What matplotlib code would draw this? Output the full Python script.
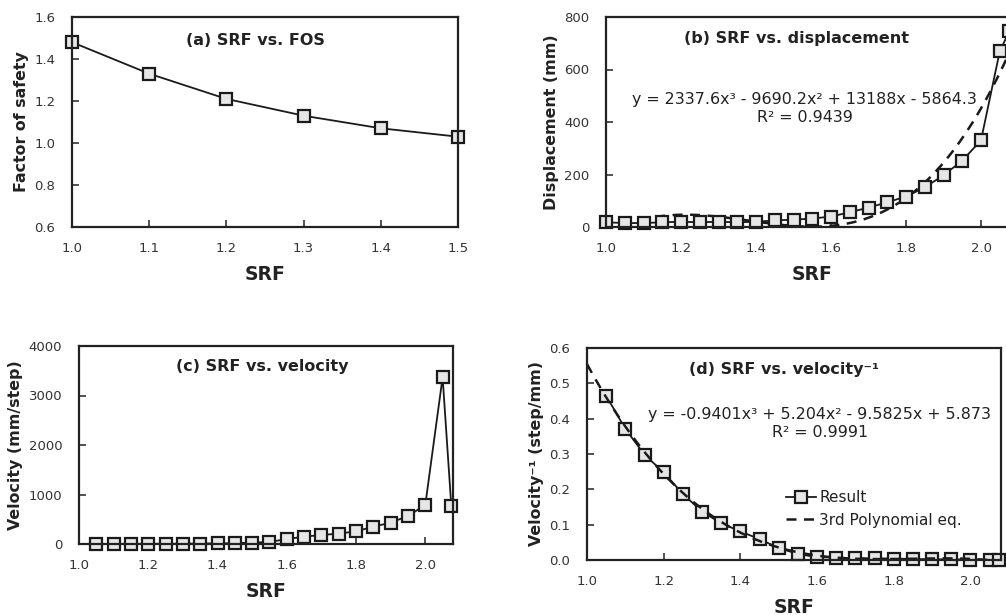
import numpy as np
import matplotlib

matplotlib.use("Agg")
from matplotlib import pyplot as plt

# (a) SRF vs. FOS
srf_a = [1.0, 1.1, 1.2, 1.3, 1.4, 1.5]
fos = [1.48, 1.33, 1.21, 1.13, 1.07, 1.03]

# (b) SRF vs. displacement
srf_b = [1.0, 1.05, 1.1, 1.15, 1.2, 1.25, 1.3, 1.35, 1.4, 1.45, 1.5, 1.55,
         1.6, 1.65, 1.7, 1.75, 1.8, 1.85, 1.9, 1.95, 2.0, 2.05, 2.075]
displacement = [18, 15, 15, 18, 20, 18, 20, 18, 20, 25, 28, 32,
                40, 56, 74, 94, 116, 151, 197, 253, 330, 669, 745]
disp_fit = [2337.6, -9690.2, 13188, -5864.3]
disp_r2 = 0.9439

# (c) SRF vs. velocity
srf_c = [1.05, 1.1, 1.15, 1.2, 1.25, 1.3, 1.35, 1.4, 1.45, 1.5, 1.55,
         1.6, 1.65, 1.7, 1.75, 1.8, 1.85, 1.9, 1.95, 2.0, 2.05, 2.075]
velocity = [2, 3, 3, 4, 5, 7, 10, 12, 16, 28, 40,
            100, 148, 182, 209, 256, 350, 431, 566, 788, 3370, 775]

# (d) SRF vs. velocity^-1
inv_velocity = [0.465, 0.371, 0.298, 0.248, 0.187, 0.137, 0.104, 0.081, 0.059, 0.034, 0.017,
                0.008, 0.007, 0.005, 0.005, 0.004, 0.003, 0.002, 0.002, 0.001, 0.0003, 0.001]
inv_fit = [-0.9401, 5.204, -9.5825, 5.873]
inv_r2 = 0.9991

plt.rcParams["font.family"] = "DejaVu Sans"

W, H = 1006, 615
fig = plt.figure(figsize=(W / 100, H / 100), dpi=100)


def px_axes(left, right, top, bottom):
    return fig.add_axes([left / W, 1 - bottom / H, (right - left) / W, (bottom - top) / H])


marker = dict(marker="s", markersize=8, markerfacecolor="#e6e6e6",
              markeredgecolor="#1a1a1a", markeredgewidth=1.6,
              color="#1a1a1a", linewidth=1.3)


def style(ax, xlabel, ylabel, xticks, yticks, xlim, ylim, fmt_y="%g"):
    ax.set_xlim(*xlim)
    ax.set_ylim(*ylim)
    ax.set_xticks(xticks)
    ax.set_xticklabels(["%.1f" % t for t in xticks])
    ax.set_yticks(yticks)
    ax.set_yticklabels([fmt_y % t for t in yticks])
    ax.tick_params(direction="in", length=5, width=1.2, labelsize=9.5,
                   labelcolor="#333333", color="#333333")
    ax.tick_params(axis="x", pad=11)
    ax.tick_params(axis="y", pad=12)
    for s in ax.spines.values():
        s.set_linewidth(1.6)
        s.set_color("#222222")
    ax.set_xlabel(xlabel, fontsize=13.5, fontweight="bold", color="#222222", labelpad=7)
    ax.set_ylabel(ylabel, fontsize=11.4, fontweight="bold", color="#222222", labelpad=4)


# (a)
ax = px_axes(72, 458, 17, 227)
ax.plot(srf_a, fos, clip_on=False, **marker)
style(ax, "SRF", "Factor of safety", [1.0, 1.1, 1.2, 1.3, 1.4, 1.5],
      [0.6, 0.8, 1.0, 1.2, 1.4, 1.6], (1.0, 1.5), (0.6, 1.6), "%.1f")
ax.text(0.474, 0.89, "(a) SRF vs. FOS", transform=ax.transAxes, ha="center", va="center",
        fontsize=11.5, fontweight="bold", color="#222222")

# (b)
ax = px_axes(606, 1018.5, 17, 227)
xf = np.linspace(1.0, 2.1, 200)
ax.plot(xf, np.polyval(disp_fit, xf), color="#1a1a1a", linestyle=(0, (4, 3)), linewidth=1.8)
ax.plot(srf_b, displacement, clip_on=False, **marker)
style(ax, "SRF", "Displacement (mm)", [1.0, 1.2, 1.4, 1.6, 1.8, 2.0],
      [0, 200, 400, 600, 800], (1.0, 2.1), (0, 800))
ax.text(1.507, 720, "(b) SRF vs. displacement", ha="center", va="center",
        fontsize=11.5, fontweight="bold", color="#222222")
ax.text(1.53, 450,
        "y = %gx³ - %gx² + %gx - %g\nR² = %.4f" % (disp_fit[0], -disp_fit[1], disp_fit[2], -disp_fit[3], disp_r2),
        ha="center", va="center", fontsize=11.4, color="#222222", linespacing=1.25)

# (c)
ax = px_axes(79, 453, 346, 544)
ax.plot(srf_c, velocity, clip_on=False, **marker)
style(ax, "SRF", "Velocity (mm/step)", [1.0, 1.2, 1.4, 1.6, 1.8, 2.0],
      [0, 1000, 2000, 3000, 4000], (1.0, 2.08), (0, 4000))
ax.text(1.53, 3576, "(c) SRF vs. velocity", ha="center", va="center",
        fontsize=11.5, fontweight="bold", color="#222222")

# (d)
ax = px_axes(587, 1001, 348, 560)
xf = np.linspace(1.0, 2.08, 200)
ax.plot(srf_c, inv_velocity, clip_on=False, label="Result", **marker)
ax.plot(xf, np.polyval(inv_fit, xf), color="#1a1a1a", linestyle=(0, (4, 3)), linewidth=1.8,
        label="3rd Polynomial eq.")
style(ax, "SRF", "Velocity⁻¹ (step/mm)", [1.0, 1.2, 1.4, 1.6, 1.8, 2.0],
      [0.0, 0.1, 0.2, 0.3, 0.4, 0.5, 0.6], (1.0, 2.08), (0, 0.6), "%.1f")
ax.text(1.514, 0.54, "(d) SRF vs. velocity⁻¹", ha="center", va="center",
        fontsize=11.5, fontweight="bold", color="#222222")
ax.text(1.607, 0.386,
        "y = %gx³ + %gx² - %gx + %g\nR² = %.4f" % (inv_fit[0], inv_fit[1], -inv_fit[2], inv_fit[3], inv_r2),
        ha="center", va="center", fontsize=11.4, color="#222222", linespacing=1.25)
ax.legend(loc="upper left", bbox_to_anchor=(0.48, 0.33), frameon=False, fontsize=11,
          handlelength=2.0, handletextpad=0.2, borderaxespad=0, borderpad=0,
          labelspacing=0.5, labelcolor="#222222")

fig.savefig("out.png", dpi=100)
